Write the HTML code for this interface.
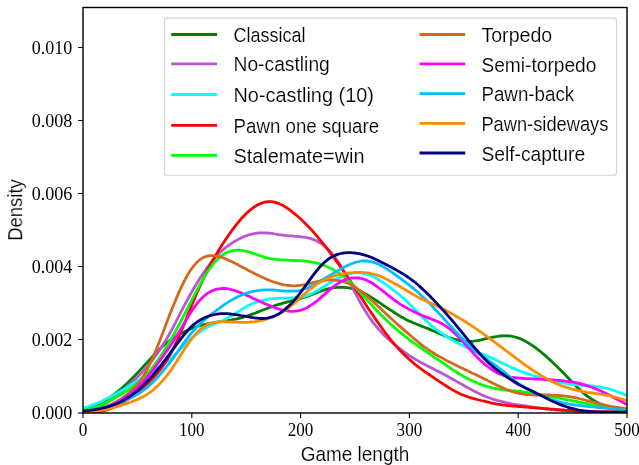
<!DOCTYPE html>
<html><head><meta charset="utf-8"><title>Game length density</title>
<style>
html,body{margin:0;padding:0;background:#fff;}
svg{display:block;}
.ss{font-family:"Liberation Sans",sans-serif;fill:#000;stroke:#fff;stroke-width:0.16px;paint-order:fill stroke;}
.sr{font-family:"Liberation Serif",serif;fill:#000;}
</style></head><body>
<svg width="639" height="465" viewBox="0 0 639 465">
<rect x="0" y="0" width="639" height="465" fill="#fff"/>
<defs><clipPath id="ax"><rect x="83.0" y="7.5" width="544.0" height="405.5"/></clipPath></defs>
<g clip-path="url(#ax)" fill="none" stroke-width="2.78" stroke-linecap="butt" stroke-linejoin="round">
<path d="M83.0,410.5 L85.0,409.8 L87.0,409.1 L89.0,408.3 L91.0,407.5 L93.0,406.7 L95.0,405.8 L97.0,404.8 L99.0,403.8 L101.0,402.8 L103.0,401.7 L105.0,400.5 L107.0,399.3 L109.0,398.0 L111.0,396.6 L113.0,395.2 L115.0,393.7 L117.0,392.1 L119.0,390.5 L121.0,388.8 L123.0,387.1 L125.0,385.3 L127.0,383.4 L129.0,381.5 L131.0,379.6 L133.0,377.6 L135.0,375.5 L137.0,373.4 L139.0,371.3 L141.0,369.1 L143.0,367.0 L145.0,364.8 L147.0,362.6 L149.0,360.4 L151.0,358.2 L153.0,356.0 L155.0,353.8 L157.0,351.7 L159.0,349.7 L161.0,347.8 L163.0,346.0 L165.0,344.3 L167.0,342.7 L169.0,341.2 L171.0,339.7 L173.0,338.3 L175.0,337.0 L177.0,335.7 L179.0,334.6 L181.0,333.4 L183.0,332.4 L185.0,331.4 L187.0,330.4 L189.0,329.5 L191.0,328.7 L193.0,327.9 L195.0,327.2 L197.0,326.5 L199.0,325.9 L201.0,325.4 L203.0,324.9 L205.0,324.4 L207.0,324.0 L209.0,323.6 L211.0,323.2 L213.0,322.9 L215.0,322.5 L217.0,322.2 L219.0,321.9 L221.0,321.6 L223.0,321.3 L225.0,321.0 L227.0,320.7 L229.0,320.3 L231.0,320.0 L233.0,319.6 L235.0,319.2 L237.0,318.8 L239.0,318.3 L241.0,317.8 L243.0,317.3 L245.0,316.7 L247.0,316.0 L249.0,315.3 L251.0,314.6 L253.0,313.9 L255.0,313.2 L257.0,312.4 L259.0,311.6 L261.0,310.8 L263.0,310.0 L265.0,309.2 L267.0,308.5 L269.0,307.7 L271.0,307.0 L273.0,306.3 L275.0,305.6 L277.0,304.9 L279.0,304.3 L281.0,303.8 L283.0,303.2 L285.0,302.6 L287.0,302.1 L289.0,301.5 L291.0,301.0 L293.0,300.4 L295.0,299.9 L297.0,299.4 L299.0,298.8 L301.0,298.2 L303.0,297.6 L305.0,297.0 L307.0,296.4 L309.0,295.7 L311.0,294.9 L313.0,294.2 L315.0,293.4 L317.0,292.6 L319.0,291.8 L321.0,291.1 L323.0,290.4 L325.0,289.7 L327.0,289.1 L329.0,288.6 L331.0,288.2 L333.0,287.9 L335.0,287.6 L337.0,287.4 L339.0,287.3 L341.0,287.3 L343.0,287.4 L345.0,287.5 L347.0,287.7 L349.0,288.0 L351.0,288.4 L353.0,288.9 L355.0,289.4 L357.0,290.1 L359.0,290.8 L361.0,291.6 L363.0,292.6 L365.0,293.6 L367.0,294.7 L369.0,295.9 L371.0,297.1 L373.0,298.4 L375.0,299.7 L377.0,301.0 L379.0,302.4 L381.0,303.7 L383.0,305.1 L385.0,306.4 L387.0,307.8 L389.0,309.1 L391.0,310.4 L393.0,311.7 L395.0,313.0 L397.0,314.3 L399.0,315.5 L401.0,316.7 L403.0,317.8 L405.0,318.9 L407.0,319.9 L409.0,320.9 L411.0,321.8 L413.0,322.7 L415.0,323.5 L417.0,324.3 L419.0,325.1 L421.0,325.9 L423.0,326.7 L425.0,327.5 L427.0,328.3 L429.0,329.1 L431.0,329.9 L433.0,330.8 L435.0,331.6 L437.0,332.5 L439.0,333.4 L441.0,334.2 L443.0,335.1 L445.0,335.9 L447.0,336.7 L449.0,337.5 L451.0,338.2 L453.0,338.8 L455.0,339.4 L457.0,339.9 L459.0,340.4 L461.0,340.8 L463.0,341.1 L465.0,341.3 L467.0,341.4 L469.0,341.5 L471.0,341.4 L473.0,341.3 L475.0,341.0 L477.0,340.7 L479.0,340.3 L481.0,339.9 L483.0,339.4 L485.0,338.9 L487.0,338.4 L489.0,338.0 L491.0,337.5 L493.0,337.1 L495.0,336.8 L497.0,336.5 L499.0,336.2 L501.0,336.0 L503.0,335.8 L505.0,335.8 L507.0,335.8 L509.0,335.9 L511.0,336.2 L513.0,336.5 L515.0,337.0 L517.0,337.6 L519.0,338.3 L521.0,339.1 L523.0,340.0 L525.0,341.0 L527.0,342.1 L529.0,343.3 L531.0,344.6 L533.0,345.9 L535.0,347.4 L537.0,348.9 L539.0,350.4 L541.0,352.0 L543.0,353.7 L545.0,355.4 L547.0,357.2 L549.0,359.0 L551.0,360.9 L553.0,362.7 L555.0,364.7 L557.0,366.6 L559.0,368.6 L561.0,370.6 L563.0,372.6 L565.0,374.6 L567.0,376.7 L569.0,378.8 L571.0,380.9 L573.0,383.0 L575.0,385.0 L577.0,387.0 L579.0,389.0 L581.0,390.8 L583.0,392.6 L585.0,394.3 L587.0,395.9 L589.0,397.3 L591.0,398.7 L593.0,400.0 L595.0,401.2 L597.0,402.3 L599.0,403.3 L601.0,404.2 L603.0,405.1 L605.0,405.9 L607.0,406.7 L609.0,407.3 L611.0,407.9 L613.0,408.5 L615.0,409.0 L617.0,409.4 L619.0,409.8 L621.0,410.2 L623.0,410.6 L625.0,410.9 L627.0,411.2" stroke="#008000"/>
<path d="M83.0,411.3 L85.0,410.9 L87.0,410.5 L89.0,410.0 L91.0,409.5 L93.0,409.0 L95.0,408.4 L97.0,407.7 L99.0,406.9 L101.0,406.0 L103.0,405.0 L105.0,403.9 L107.0,402.8 L109.0,401.4 L111.0,400.0 L113.0,398.5 L115.0,396.9 L117.0,395.3 L119.0,393.7 L121.0,392.0 L123.0,390.3 L125.0,388.6 L127.0,386.8 L129.0,385.0 L131.0,383.2 L133.0,381.4 L135.0,379.5 L137.0,377.6 L139.0,375.6 L141.0,373.5 L143.0,371.4 L145.0,369.2 L147.0,366.9 L149.0,364.5 L151.0,362.0 L153.0,359.4 L155.0,356.7 L157.0,353.9 L159.0,351.0 L161.0,348.0 L163.0,344.8 L165.0,341.6 L167.0,338.2 L169.0,334.7 L171.0,331.1 L173.0,327.4 L175.0,323.6 L177.0,319.7 L179.0,315.8 L181.0,311.9 L183.0,308.1 L185.0,304.2 L187.0,300.5 L189.0,296.8 L191.0,293.2 L193.0,289.7 L195.0,286.3 L197.0,283.0 L199.0,279.8 L201.0,276.7 L203.0,273.6 L205.0,270.7 L207.0,267.9 L209.0,265.2 L211.0,262.6 L213.0,260.2 L215.0,257.8 L217.0,255.6 L219.0,253.6 L221.0,251.6 L223.0,249.8 L225.0,248.1 L227.0,246.5 L229.0,245.1 L231.0,243.7 L233.0,242.4 L235.0,241.2 L237.0,240.1 L239.0,239.1 L241.0,238.1 L243.0,237.1 L245.0,236.3 L247.0,235.5 L249.0,234.8 L251.0,234.3 L253.0,233.8 L255.0,233.4 L257.0,233.1 L259.0,232.9 L261.0,232.8 L263.0,232.8 L265.0,232.9 L267.0,233.0 L269.0,233.2 L271.0,233.4 L273.0,233.7 L275.0,234.0 L277.0,234.3 L279.0,234.6 L281.0,234.8 L283.0,235.1 L285.0,235.4 L287.0,235.6 L289.0,235.8 L291.0,235.9 L293.0,236.1 L295.0,236.3 L297.0,236.4 L299.0,236.6 L301.0,236.8 L303.0,237.1 L305.0,237.4 L307.0,237.7 L309.0,238.2 L311.0,238.7 L313.0,239.4 L315.0,240.2 L317.0,241.1 L319.0,242.2 L321.0,243.4 L323.0,244.8 L325.0,246.5 L327.0,248.3 L329.0,250.3 L331.0,252.5 L333.0,254.9 L335.0,257.5 L337.0,260.3 L339.0,263.3 L341.0,266.5 L343.0,269.9 L345.0,273.4 L347.0,277.1 L349.0,280.9 L351.0,284.7 L353.0,288.6 L355.0,292.5 L357.0,296.3 L359.0,300.1 L361.0,303.7 L363.0,307.3 L365.0,310.6 L367.0,313.8 L369.0,316.8 L371.0,319.6 L373.0,322.3 L375.0,324.9 L377.0,327.3 L379.0,329.6 L381.0,331.8 L383.0,333.9 L385.0,335.9 L387.0,337.9 L389.0,339.7 L391.0,341.5 L393.0,343.3 L395.0,345.0 L397.0,346.6 L399.0,348.2 L401.0,349.7 L403.0,351.2 L405.0,352.6 L407.0,354.0 L409.0,355.4 L411.0,356.7 L413.0,357.9 L415.0,359.1 L417.0,360.3 L419.0,361.4 L421.0,362.5 L423.0,363.6 L425.0,364.6 L427.0,365.7 L429.0,366.7 L431.0,367.7 L433.0,368.7 L435.0,369.7 L437.0,370.8 L439.0,371.8 L441.0,372.8 L443.0,373.9 L445.0,375.0 L447.0,376.0 L449.0,377.1 L451.0,378.2 L453.0,379.3 L455.0,380.4 L457.0,381.6 L459.0,382.7 L461.0,383.9 L463.0,385.0 L465.0,386.2 L467.0,387.3 L469.0,388.4 L471.0,389.5 L473.0,390.6 L475.0,391.6 L477.0,392.6 L479.0,393.6 L481.0,394.5 L483.0,395.4 L485.0,396.2 L487.0,397.0 L489.0,397.8 L491.0,398.5 L493.0,399.2 L495.0,399.8 L497.0,400.4 L499.0,400.9 L501.0,401.4 L503.0,401.9 L505.0,402.4 L507.0,402.8 L509.0,403.2 L511.0,403.6 L513.0,404.0 L515.0,404.3 L517.0,404.7 L519.0,405.0 L521.0,405.3 L523.0,405.6 L525.0,405.9 L527.0,406.2 L529.0,406.5 L531.0,406.8 L533.0,407.1 L535.0,407.4 L537.0,407.7 L539.0,408.0 L541.0,408.2 L543.0,408.5 L545.0,408.8 L547.0,409.0 L549.0,409.2 L551.0,409.5 L553.0,409.7 L555.0,409.9 L557.0,410.1 L559.0,410.2 L561.0,410.4 L563.0,410.6 L565.0,410.7 L567.0,410.9 L569.0,411.0 L571.0,411.1 L573.0,411.2 L575.0,411.3 L577.0,411.4 L579.0,411.5 L581.0,411.6 L583.0,411.6 L585.0,411.7 L587.0,411.8 L589.0,411.8 L591.0,411.9 L593.0,411.9 L595.0,411.9 L597.0,412.0 L599.0,412.0 L601.0,412.0 L603.0,412.0 L605.0,412.0 L607.0,412.0 L609.0,412.1 L611.0,412.1 L613.0,412.1 L615.0,412.1 L617.0,412.0 L619.0,412.0 L621.0,412.0 L623.0,412.0 L625.0,412.0 L627.0,412.0" stroke="#ba55d3"/>
<path d="M83.0,408.2 L85.0,407.6 L87.0,407.0 L89.0,406.3 L91.0,405.6 L93.0,404.9 L95.0,404.1 L97.0,403.3 L99.0,402.5 L101.0,401.6 L103.0,400.6 L105.0,399.6 L107.0,398.6 L109.0,397.5 L111.0,396.5 L113.0,395.4 L115.0,394.2 L117.0,393.1 L119.0,392.0 L121.0,390.8 L123.0,389.7 L125.0,388.5 L127.0,387.3 L129.0,386.1 L131.0,384.9 L133.0,383.6 L135.0,382.4 L137.0,381.1 L139.0,379.9 L141.0,378.6 L143.0,377.3 L145.0,376.0 L147.0,374.8 L149.0,373.5 L151.0,372.2 L153.0,370.9 L155.0,369.6 L157.0,368.3 L159.0,367.0 L161.0,365.7 L163.0,364.3 L165.0,362.9 L167.0,361.4 L169.0,359.8 L171.0,358.1 L173.0,356.2 L175.0,354.3 L177.0,352.4 L179.0,350.4 L181.0,348.4 L183.0,346.4 L185.0,344.4 L187.0,342.5 L189.0,340.6 L191.0,338.8 L193.0,337.1 L195.0,335.4 L197.0,333.9 L199.0,332.4 L201.0,331.0 L203.0,329.7 L205.0,328.5 L207.0,327.4 L209.0,326.4 L211.0,325.5 L213.0,324.7 L215.0,323.8 L217.0,323.0 L219.0,322.2 L221.0,321.4 L223.0,320.5 L225.0,319.5 L227.0,318.4 L229.0,317.3 L231.0,316.1 L233.0,314.9 L235.0,313.6 L237.0,312.4 L239.0,311.1 L241.0,309.8 L243.0,308.6 L245.0,307.4 L247.0,306.2 L249.0,305.2 L251.0,304.2 L253.0,303.4 L255.0,302.6 L257.0,301.9 L259.0,301.3 L261.0,300.8 L263.0,300.3 L265.0,299.9 L267.0,299.5 L269.0,299.2 L271.0,299.0 L273.0,298.7 L275.0,298.6 L277.0,298.4 L279.0,298.3 L281.0,298.2 L283.0,298.2 L285.0,298.1 L287.0,298.1 L289.0,298.0 L291.0,297.9 L293.0,297.8 L295.0,297.7 L297.0,297.5 L299.0,297.3 L301.0,297.0 L303.0,296.6 L305.0,296.1 L307.0,295.5 L309.0,294.7 L311.0,293.9 L313.0,293.0 L315.0,291.9 L317.0,290.8 L319.0,289.7 L321.0,288.4 L323.0,287.2 L325.0,285.9 L327.0,284.7 L329.0,283.4 L331.0,282.2 L333.0,281.0 L335.0,279.8 L337.0,278.8 L339.0,277.7 L341.0,276.8 L343.0,275.9 L345.0,275.1 L347.0,274.4 L349.0,273.8 L351.0,273.3 L353.0,273.0 L355.0,272.7 L357.0,272.6 L359.0,272.6 L361.0,272.8 L363.0,273.1 L365.0,273.6 L367.0,274.2 L369.0,274.9 L371.0,275.7 L373.0,276.6 L375.0,277.6 L377.0,278.7 L379.0,279.9 L381.0,281.2 L383.0,282.5 L385.0,283.9 L387.0,285.3 L389.0,286.8 L391.0,288.3 L393.0,289.8 L395.0,291.3 L397.0,292.9 L399.0,294.5 L401.0,296.2 L403.0,297.9 L405.0,299.7 L407.0,301.6 L409.0,303.6 L411.0,305.5 L413.0,307.5 L415.0,309.6 L417.0,311.6 L419.0,313.6 L421.0,315.7 L423.0,317.7 L425.0,319.6 L427.0,321.5 L429.0,323.4 L431.0,325.2 L433.0,326.9 L435.0,328.5 L437.0,330.0 L439.0,331.4 L441.0,332.8 L443.0,334.2 L445.0,335.5 L447.0,336.7 L449.0,338.0 L451.0,339.2 L453.0,340.4 L455.0,341.6 L457.0,342.7 L459.0,343.8 L461.0,344.8 L463.0,345.8 L465.0,346.8 L467.0,347.7 L469.0,348.6 L471.0,349.5 L473.0,350.3 L475.0,351.1 L477.0,351.9 L479.0,352.7 L481.0,353.5 L483.0,354.3 L485.0,355.1 L487.0,355.9 L489.0,356.8 L491.0,357.7 L493.0,358.6 L495.0,359.5 L497.0,360.5 L499.0,361.4 L501.0,362.4 L503.0,363.4 L505.0,364.3 L507.0,365.3 L509.0,366.2 L511.0,367.2 L513.0,368.1 L515.0,368.9 L517.0,369.8 L519.0,370.6 L521.0,371.4 L523.0,372.1 L525.0,372.8 L527.0,373.5 L529.0,374.2 L531.0,374.8 L533.0,375.5 L535.0,376.1 L537.0,376.7 L539.0,377.3 L541.0,377.9 L543.0,378.5 L545.0,379.1 L547.0,379.6 L549.0,380.2 L551.0,380.6 L553.0,381.1 L555.0,381.5 L557.0,382.0 L559.0,382.3 L561.0,382.7 L563.0,383.0 L565.0,383.3 L567.0,383.6 L569.0,383.9 L571.0,384.1 L573.0,384.3 L575.0,384.5 L577.0,384.7 L579.0,384.9 L581.0,385.1 L583.0,385.3 L585.0,385.5 L587.0,385.6 L589.0,385.8 L591.0,386.0 L593.0,386.2 L595.0,386.4 L597.0,386.7 L599.0,386.9 L601.0,387.2 L603.0,387.6 L605.0,388.0 L607.0,388.4 L609.0,388.9 L611.0,389.5 L613.0,390.1 L615.0,390.8 L617.0,391.5 L619.0,392.3 L621.0,393.1 L623.0,393.9 L625.0,394.8 L627.0,395.7" stroke="#00ffff"/>
<path d="M83.0,412.2 L85.0,412.2 L87.0,412.2 L89.0,412.2 L91.0,412.2 L93.0,412.1 L95.0,412.0 L97.0,411.8 L99.0,411.6 L101.0,411.3 L103.0,410.9 L105.0,410.4 L107.0,409.9 L109.0,409.2 L111.0,408.5 L113.0,407.7 L115.0,406.8 L117.0,405.7 L119.0,404.6 L121.0,403.5 L123.0,402.3 L125.0,401.1 L127.0,399.9 L129.0,398.6 L131.0,397.3 L133.0,395.9 L135.0,394.4 L137.0,392.9 L139.0,391.3 L141.0,389.7 L143.0,388.0 L145.0,386.2 L147.0,384.3 L149.0,382.4 L151.0,380.3 L153.0,378.2 L155.0,376.0 L157.0,373.7 L159.0,371.2 L161.0,368.6 L163.0,365.9 L165.0,363.0 L167.0,359.9 L169.0,356.6 L171.0,353.0 L173.0,349.2 L175.0,345.2 L177.0,340.9 L179.0,336.4 L181.0,331.8 L183.0,327.0 L185.0,322.1 L187.0,317.1 L189.0,312.1 L191.0,307.1 L193.0,302.2 L195.0,297.4 L197.0,292.8 L199.0,288.2 L201.0,283.8 L203.0,279.5 L205.0,275.4 L207.0,271.4 L209.0,267.5 L211.0,263.7 L213.0,260.0 L215.0,256.5 L217.0,253.1 L219.0,249.7 L221.0,246.5 L223.0,243.4 L225.0,240.4 L227.0,237.4 L229.0,234.5 L231.0,231.7 L233.0,228.9 L235.0,226.3 L237.0,223.8 L239.0,221.3 L241.0,219.0 L243.0,216.8 L245.0,214.8 L247.0,212.8 L249.0,211.0 L251.0,209.4 L253.0,207.9 L255.0,206.5 L257.0,205.3 L259.0,204.3 L261.0,203.4 L263.0,202.7 L265.0,202.2 L267.0,201.8 L269.0,201.7 L271.0,201.7 L273.0,201.9 L275.0,202.4 L277.0,202.9 L279.0,203.7 L281.0,204.6 L283.0,205.6 L285.0,206.8 L287.0,208.0 L289.0,209.4 L291.0,210.9 L293.0,212.5 L295.0,214.1 L297.0,215.8 L299.0,217.5 L301.0,219.3 L303.0,221.2 L305.0,223.2 L307.0,225.2 L309.0,227.2 L311.0,229.4 L313.0,231.6 L315.0,233.9 L317.0,236.2 L319.0,238.6 L321.0,241.1 L323.0,243.5 L325.0,246.0 L327.0,248.6 L329.0,251.2 L331.0,253.8 L333.0,256.4 L335.0,259.1 L337.0,261.8 L339.0,264.6 L341.0,267.4 L343.0,270.2 L345.0,273.1 L347.0,276.0 L349.0,278.9 L351.0,281.9 L353.0,284.9 L355.0,287.9 L357.0,291.0 L359.0,294.0 L361.0,297.1 L363.0,300.2 L365.0,303.3 L367.0,306.4 L369.0,309.4 L371.0,312.4 L373.0,315.3 L375.0,318.2 L377.0,321.1 L379.0,324.0 L381.0,326.8 L383.0,329.5 L385.0,332.3 L387.0,334.9 L389.0,337.5 L391.0,340.0 L393.0,342.5 L395.0,344.8 L397.0,347.1 L399.0,349.3 L401.0,351.4 L403.0,353.5 L405.0,355.4 L407.0,357.3 L409.0,359.2 L411.0,360.9 L413.0,362.6 L415.0,364.3 L417.0,365.8 L419.0,367.4 L421.0,368.9 L423.0,370.3 L425.0,371.8 L427.0,373.2 L429.0,374.5 L431.0,375.9 L433.0,377.2 L435.0,378.6 L437.0,379.9 L439.0,381.3 L441.0,382.6 L443.0,383.9 L445.0,385.2 L447.0,386.5 L449.0,387.7 L451.0,388.9 L453.0,390.1 L455.0,391.2 L457.0,392.2 L459.0,393.2 L461.0,394.2 L463.0,395.0 L465.0,395.8 L467.0,396.5 L469.0,397.2 L471.0,397.8 L473.0,398.4 L475.0,398.9 L477.0,399.5 L479.0,400.0 L481.0,400.5 L483.0,400.9 L485.0,401.4 L487.0,401.9 L489.0,402.4 L491.0,402.9 L493.0,403.3 L495.0,403.7 L497.0,404.1 L499.0,404.4 L501.0,404.7 L503.0,405.0 L505.0,405.2 L507.0,405.5 L509.0,405.7 L511.0,405.9 L513.0,406.1 L515.0,406.2 L517.0,406.4 L519.0,406.6 L521.0,406.7 L523.0,406.9 L525.0,407.0 L527.0,407.2 L529.0,407.3 L531.0,407.5 L533.0,407.6 L535.0,407.8 L537.0,408.0 L539.0,408.1 L541.0,408.3 L543.0,408.4 L545.0,408.6 L547.0,408.8 L549.0,408.9 L551.0,409.1 L553.0,409.2 L555.0,409.4 L557.0,409.6 L559.0,409.7 L561.0,409.9 L563.0,410.0 L565.0,410.2 L567.0,410.3 L569.0,410.4 L571.0,410.6 L573.0,410.7 L575.0,410.8 L577.0,410.9 L579.0,411.0 L581.0,411.1 L583.0,411.2 L585.0,411.3 L587.0,411.4 L589.0,411.5 L591.0,411.5 L593.0,411.6 L595.0,411.7 L597.0,411.7 L599.0,411.8 L601.0,411.8 L603.0,411.8 L605.0,411.9 L607.0,411.9 L609.0,411.9 L611.0,411.9 L613.0,412.0 L615.0,412.0 L617.0,412.0 L619.0,412.0 L621.0,412.0 L623.0,412.0 L625.0,412.0 L627.0,412.0" stroke="#ff0000"/>
<path d="M83.0,410.7 L85.0,410.2 L87.0,409.7 L89.0,409.2 L91.0,408.6 L93.0,408.1 L95.0,407.4 L97.0,406.7 L99.0,406.0 L101.0,405.2 L103.0,404.3 L105.0,403.4 L107.0,402.4 L109.0,401.4 L111.0,400.3 L113.0,399.2 L115.0,398.0 L117.0,396.8 L119.0,395.7 L121.0,394.5 L123.0,393.3 L125.0,392.0 L127.0,390.8 L129.0,389.5 L131.0,388.1 L133.0,386.7 L135.0,385.2 L137.0,383.7 L139.0,382.0 L141.0,380.2 L143.0,378.3 L145.0,376.2 L147.0,374.1 L149.0,371.8 L151.0,369.4 L153.0,366.8 L155.0,364.1 L157.0,361.4 L159.0,358.5 L161.0,355.5 L163.0,352.4 L165.0,349.3 L167.0,346.0 L169.0,342.7 L171.0,339.3 L173.0,335.8 L175.0,332.2 L177.0,328.5 L179.0,324.8 L181.0,321.0 L183.0,317.2 L185.0,313.3 L187.0,309.4 L189.0,305.5 L191.0,301.6 L193.0,297.7 L195.0,293.8 L197.0,290.0 L199.0,286.3 L201.0,282.7 L203.0,279.2 L205.0,275.8 L207.0,272.6 L209.0,269.6 L211.0,266.8 L213.0,264.2 L215.0,261.9 L217.0,259.8 L219.0,257.9 L221.0,256.2 L223.0,254.8 L225.0,253.6 L227.0,252.6 L229.0,251.7 L231.0,251.1 L233.0,250.6 L235.0,250.3 L237.0,250.2 L239.0,250.2 L241.0,250.4 L243.0,250.6 L245.0,251.0 L247.0,251.5 L249.0,252.1 L251.0,252.7 L253.0,253.3 L255.0,254.0 L257.0,254.7 L259.0,255.4 L261.0,256.0 L263.0,256.7 L265.0,257.3 L267.0,257.8 L269.0,258.3 L271.0,258.7 L273.0,259.0 L275.0,259.3 L277.0,259.5 L279.0,259.7 L281.0,259.9 L283.0,260.0 L285.0,260.1 L287.0,260.2 L289.0,260.3 L291.0,260.4 L293.0,260.5 L295.0,260.5 L297.0,260.6 L299.0,260.7 L301.0,260.9 L303.0,261.0 L305.0,261.2 L307.0,261.4 L309.0,261.7 L311.0,262.0 L313.0,262.3 L315.0,262.7 L317.0,263.2 L319.0,263.7 L321.0,264.4 L323.0,265.0 L325.0,265.8 L327.0,266.7 L329.0,267.6 L331.0,268.5 L333.0,269.5 L335.0,270.6 L337.0,271.8 L339.0,273.0 L341.0,274.4 L343.0,275.8 L345.0,277.4 L347.0,279.0 L349.0,280.8 L351.0,282.7 L353.0,284.7 L355.0,286.7 L357.0,288.9 L359.0,291.1 L361.0,293.3 L363.0,295.5 L365.0,297.7 L367.0,299.9 L369.0,302.1 L371.0,304.3 L373.0,306.4 L375.0,308.6 L377.0,310.7 L379.0,312.8 L381.0,314.8 L383.0,316.8 L385.0,318.8 L387.0,320.7 L389.0,322.6 L391.0,324.5 L393.0,326.3 L395.0,328.1 L397.0,329.8 L399.0,331.5 L401.0,333.1 L403.0,334.7 L405.0,336.3 L407.0,337.8 L409.0,339.3 L411.0,340.8 L413.0,342.3 L415.0,343.7 L417.0,345.2 L419.0,346.6 L421.0,348.0 L423.0,349.4 L425.0,350.8 L427.0,352.2 L429.0,353.5 L431.0,354.9 L433.0,356.2 L435.0,357.6 L437.0,358.9 L439.0,360.3 L441.0,361.7 L443.0,363.0 L445.0,364.4 L447.0,365.8 L449.0,367.2 L451.0,368.6 L453.0,369.9 L455.0,371.2 L457.0,372.5 L459.0,373.7 L461.0,374.9 L463.0,376.0 L465.0,377.1 L467.0,378.2 L469.0,379.2 L471.0,380.2 L473.0,381.1 L475.0,382.0 L477.0,382.8 L479.0,383.7 L481.0,384.4 L483.0,385.1 L485.0,385.8 L487.0,386.4 L489.0,387.0 L491.0,387.5 L493.0,388.0 L495.0,388.4 L497.0,388.8 L499.0,389.2 L501.0,389.5 L503.0,389.8 L505.0,390.0 L507.0,390.3 L509.0,390.4 L511.0,390.6 L513.0,390.8 L515.0,390.9 L517.0,391.1 L519.0,391.3 L521.0,391.5 L523.0,391.8 L525.0,392.1 L527.0,392.4 L529.0,392.7 L531.0,393.1 L533.0,393.5 L535.0,393.8 L537.0,394.2 L539.0,394.5 L541.0,394.9 L543.0,395.2 L545.0,395.6 L547.0,396.0 L549.0,396.3 L551.0,396.7 L553.0,397.0 L555.0,397.4 L557.0,397.8 L559.0,398.1 L561.0,398.5 L563.0,398.9 L565.0,399.3 L567.0,399.6 L569.0,400.0 L571.0,400.4 L573.0,400.8 L575.0,401.2 L577.0,401.6 L579.0,402.0 L581.0,402.4 L583.0,402.9 L585.0,403.3 L587.0,403.7 L589.0,404.1 L591.0,404.5 L593.0,404.9 L595.0,405.3 L597.0,405.7 L599.0,406.1 L601.0,406.5 L603.0,406.9 L605.0,407.2 L607.0,407.6 L609.0,407.9 L611.0,408.2 L613.0,408.5 L615.0,408.7 L617.0,409.0 L619.0,409.2 L621.0,409.4 L623.0,409.6 L625.0,409.9 L627.0,410.1" stroke="#00ff00"/>
<path d="M83.0,411.7 L85.0,411.5 L87.0,411.2 L89.0,411.0 L91.0,410.7 L93.0,410.3 L95.0,410.0 L97.0,409.5 L99.0,409.0 L101.0,408.5 L103.0,407.9 L105.0,407.2 L107.0,406.4 L109.0,405.5 L111.0,404.6 L113.0,403.6 L115.0,402.6 L117.0,401.5 L119.0,400.3 L121.0,399.0 L123.0,397.6 L125.0,396.1 L127.0,394.6 L129.0,392.9 L131.0,391.1 L133.0,389.2 L135.0,387.1 L137.0,384.8 L139.0,382.3 L141.0,379.6 L143.0,376.6 L145.0,373.3 L147.0,369.8 L149.0,365.9 L151.0,361.7 L153.0,357.2 L155.0,352.5 L157.0,347.6 L159.0,342.5 L161.0,337.4 L163.0,332.2 L165.0,327.0 L167.0,321.8 L169.0,316.6 L171.0,311.5 L173.0,306.5 L175.0,301.7 L177.0,296.9 L179.0,292.3 L181.0,287.9 L183.0,283.7 L185.0,279.7 L187.0,276.0 L189.0,272.6 L191.0,269.6 L193.0,266.8 L195.0,264.4 L197.0,262.2 L199.0,260.4 L201.0,258.9 L203.0,257.8 L205.0,256.8 L207.0,256.2 L209.0,255.8 L211.0,255.6 L213.0,255.6 L215.0,255.8 L217.0,256.1 L219.0,256.6 L221.0,257.2 L223.0,257.9 L225.0,258.6 L227.0,259.5 L229.0,260.4 L231.0,261.3 L233.0,262.3 L235.0,263.3 L237.0,264.3 L239.0,265.4 L241.0,266.4 L243.0,267.5 L245.0,268.6 L247.0,269.6 L249.0,270.7 L251.0,271.7 L253.0,272.7 L255.0,273.8 L257.0,274.8 L259.0,275.7 L261.0,276.7 L263.0,277.6 L265.0,278.5 L267.0,279.4 L269.0,280.2 L271.0,281.0 L273.0,281.7 L275.0,282.4 L277.0,283.0 L279.0,283.6 L281.0,284.1 L283.0,284.6 L285.0,285.0 L287.0,285.3 L289.0,285.5 L291.0,285.7 L293.0,285.8 L295.0,285.8 L297.0,285.7 L299.0,285.5 L301.0,285.2 L303.0,284.9 L305.0,284.5 L307.0,284.1 L309.0,283.6 L311.0,283.1 L313.0,282.6 L315.0,282.2 L317.0,281.7 L319.0,281.3 L321.0,280.9 L323.0,280.6 L325.0,280.4 L327.0,280.2 L329.0,280.0 L331.0,280.0 L333.0,280.0 L335.0,280.1 L337.0,280.3 L339.0,280.6 L341.0,281.0 L343.0,281.5 L345.0,282.1 L347.0,282.9 L349.0,283.7 L351.0,284.7 L353.0,285.8 L355.0,287.0 L357.0,288.3 L359.0,289.8 L361.0,291.3 L363.0,292.8 L365.0,294.5 L367.0,296.2 L369.0,297.9 L371.0,299.7 L373.0,301.5 L375.0,303.4 L377.0,305.2 L379.0,307.1 L381.0,309.0 L383.0,310.9 L385.0,312.8 L387.0,314.7 L389.0,316.5 L391.0,318.4 L393.0,320.2 L395.0,322.0 L397.0,323.8 L399.0,325.6 L401.0,327.4 L403.0,329.1 L405.0,330.9 L407.0,332.6 L409.0,334.3 L411.0,336.0 L413.0,337.7 L415.0,339.4 L417.0,341.0 L419.0,342.7 L421.0,344.3 L423.0,345.8 L425.0,347.3 L427.0,348.7 L429.0,350.1 L431.0,351.4 L433.0,352.7 L435.0,353.9 L437.0,355.1 L439.0,356.3 L441.0,357.4 L443.0,358.5 L445.0,359.6 L447.0,360.7 L449.0,361.7 L451.0,362.8 L453.0,363.8 L455.0,364.7 L457.0,365.7 L459.0,366.7 L461.0,367.7 L463.0,368.6 L465.0,369.6 L467.0,370.5 L469.0,371.5 L471.0,372.4 L473.0,373.4 L475.0,374.3 L477.0,375.3 L479.0,376.2 L481.0,377.2 L483.0,378.2 L485.0,379.2 L487.0,380.1 L489.0,381.2 L491.0,382.2 L493.0,383.2 L495.0,384.2 L497.0,385.2 L499.0,386.1 L501.0,387.1 L503.0,388.0 L505.0,388.9 L507.0,389.7 L509.0,390.4 L511.0,391.1 L513.0,391.7 L515.0,392.3 L517.0,392.8 L519.0,393.3 L521.0,393.7 L523.0,394.0 L525.0,394.3 L527.0,394.5 L529.0,394.7 L531.0,394.8 L533.0,394.9 L535.0,395.0 L537.0,395.0 L539.0,395.0 L541.0,395.0 L543.0,395.0 L545.0,395.0 L547.0,395.0 L549.0,395.0 L551.0,395.1 L553.0,395.1 L555.0,395.2 L557.0,395.3 L559.0,395.5 L561.0,395.6 L563.0,395.8 L565.0,396.0 L567.0,396.3 L569.0,396.6 L571.0,396.9 L573.0,397.3 L575.0,397.7 L577.0,398.1 L579.0,398.5 L581.0,399.0 L583.0,399.5 L585.0,400.0 L587.0,400.6 L589.0,401.1 L591.0,401.6 L593.0,402.2 L595.0,402.7 L597.0,403.2 L599.0,403.7 L601.0,404.2 L603.0,404.6 L605.0,405.1 L607.0,405.5 L609.0,405.9 L611.0,406.3 L613.0,406.6 L615.0,407.0 L617.0,407.3 L619.0,407.6 L621.0,407.9 L623.0,408.2 L625.0,408.5 L627.0,408.8" stroke="#d2691e"/>
<path d="M83.0,411.7 L85.0,411.4 L87.0,411.2 L89.0,410.9 L91.0,410.6 L93.0,410.3 L95.0,409.9 L97.0,409.5 L99.0,409.0 L101.0,408.5 L103.0,407.9 L105.0,407.2 L107.0,406.5 L109.0,405.7 L111.0,404.8 L113.0,403.9 L115.0,402.9 L117.0,401.9 L119.0,400.8 L121.0,399.7 L123.0,398.5 L125.0,397.3 L127.0,396.0 L129.0,394.6 L131.0,393.1 L133.0,391.5 L135.0,389.8 L137.0,388.0 L139.0,386.1 L141.0,384.1 L143.0,382.0 L145.0,379.8 L147.0,377.4 L149.0,375.0 L151.0,372.5 L153.0,369.9 L155.0,367.2 L157.0,364.5 L159.0,361.8 L161.0,359.0 L163.0,356.2 L165.0,353.3 L167.0,350.4 L169.0,347.5 L171.0,344.6 L173.0,341.6 L175.0,338.5 L177.0,335.3 L179.0,332.0 L181.0,328.7 L183.0,325.3 L185.0,321.9 L187.0,318.5 L189.0,315.2 L191.0,312.0 L193.0,309.0 L195.0,306.1 L197.0,303.5 L199.0,301.1 L201.0,298.9 L203.0,297.0 L205.0,295.3 L207.0,293.7 L209.0,292.4 L211.0,291.3 L213.0,290.4 L215.0,289.7 L217.0,289.1 L219.0,288.8 L221.0,288.5 L223.0,288.5 L225.0,288.5 L227.0,288.7 L229.0,289.0 L231.0,289.5 L233.0,290.0 L235.0,290.6 L237.0,291.3 L239.0,292.0 L241.0,292.8 L243.0,293.7 L245.0,294.5 L247.0,295.4 L249.0,296.3 L251.0,297.2 L253.0,298.2 L255.0,299.1 L257.0,300.0 L259.0,300.9 L261.0,301.9 L263.0,302.8 L265.0,303.7 L267.0,304.5 L269.0,305.4 L271.0,306.2 L273.0,307.0 L275.0,307.7 L277.0,308.4 L279.0,309.0 L281.0,309.6 L283.0,310.1 L285.0,310.5 L287.0,310.9 L289.0,311.1 L291.0,311.3 L293.0,311.3 L295.0,311.2 L297.0,311.0 L299.0,310.6 L301.0,310.1 L303.0,309.5 L305.0,308.6 L307.0,307.7 L309.0,306.5 L311.0,305.2 L313.0,303.9 L315.0,302.4 L317.0,300.8 L319.0,299.1 L321.0,297.4 L323.0,295.6 L325.0,293.9 L327.0,292.1 L329.0,290.4 L331.0,288.7 L333.0,287.1 L335.0,285.5 L337.0,284.1 L339.0,282.8 L341.0,281.6 L343.0,280.6 L345.0,279.8 L347.0,279.1 L349.0,278.5 L351.0,278.1 L353.0,277.9 L355.0,277.8 L357.0,277.8 L359.0,278.0 L361.0,278.4 L363.0,278.9 L365.0,279.6 L367.0,280.4 L369.0,281.4 L371.0,282.5 L373.0,283.7 L375.0,285.1 L377.0,286.5 L379.0,288.0 L381.0,289.5 L383.0,291.1 L385.0,292.7 L387.0,294.3 L389.0,295.9 L391.0,297.5 L393.0,299.0 L395.0,300.5 L397.0,301.9 L399.0,303.3 L401.0,304.6 L403.0,305.8 L405.0,307.0 L407.0,308.1 L409.0,309.2 L411.0,310.3 L413.0,311.3 L415.0,312.2 L417.0,313.2 L419.0,314.1 L421.0,314.9 L423.0,315.8 L425.0,316.6 L427.0,317.4 L429.0,318.1 L431.0,318.9 L433.0,319.7 L435.0,320.5 L437.0,321.3 L439.0,322.3 L441.0,323.3 L443.0,324.4 L445.0,325.6 L447.0,326.9 L449.0,328.4 L451.0,330.0 L453.0,331.7 L455.0,333.5 L457.0,335.4 L459.0,337.5 L461.0,339.6 L463.0,341.7 L465.0,344.0 L467.0,346.2 L469.0,348.4 L471.0,350.7 L473.0,352.9 L475.0,355.0 L477.0,357.0 L479.0,359.0 L481.0,360.9 L483.0,362.7 L485.0,364.4 L487.0,366.0 L489.0,367.5 L491.0,369.0 L493.0,370.3 L495.0,371.6 L497.0,372.7 L499.0,373.6 L501.0,374.5 L503.0,375.2 L505.0,375.9 L507.0,376.4 L509.0,376.8 L511.0,377.2 L513.0,377.5 L515.0,377.7 L517.0,377.9 L519.0,378.1 L521.0,378.2 L523.0,378.3 L525.0,378.5 L527.0,378.6 L529.0,378.7 L531.0,378.8 L533.0,378.9 L535.0,379.0 L537.0,379.1 L539.0,379.2 L541.0,379.3 L543.0,379.4 L545.0,379.5 L547.0,379.6 L549.0,379.7 L551.0,379.9 L553.0,380.0 L555.0,380.2 L557.0,380.3 L559.0,380.5 L561.0,380.7 L563.0,380.9 L565.0,381.1 L567.0,381.4 L569.0,381.6 L571.0,381.9 L573.0,382.2 L575.0,382.5 L577.0,382.9 L579.0,383.3 L581.0,383.8 L583.0,384.4 L585.0,384.9 L587.0,385.6 L589.0,386.2 L591.0,387.0 L593.0,387.7 L595.0,388.5 L597.0,389.4 L599.0,390.2 L601.0,391.1 L603.0,392.1 L605.0,393.1 L607.0,394.1 L609.0,395.1 L611.0,396.1 L613.0,397.2 L615.0,398.2 L617.0,399.3 L619.0,400.3 L621.0,401.4 L623.0,402.4 L625.0,403.5 L627.0,404.6" stroke="#ff00ff"/>
<path d="M83.0,411.1 L85.0,410.8 L87.0,410.6 L89.0,410.3 L91.0,410.0 L93.0,409.7 L95.0,409.3 L97.0,409.0 L99.0,408.6 L101.0,408.2 L103.0,407.7 L105.0,407.3 L107.0,406.7 L109.0,406.2 L111.0,405.6 L113.0,405.0 L115.0,404.3 L117.0,403.6 L119.0,402.9 L121.0,402.2 L123.0,401.4 L125.0,400.5 L127.0,399.7 L129.0,398.7 L131.0,397.8 L133.0,396.8 L135.0,395.7 L137.0,394.6 L139.0,393.4 L141.0,392.1 L143.0,390.7 L145.0,389.2 L147.0,387.6 L149.0,385.8 L151.0,384.0 L153.0,382.0 L155.0,380.0 L157.0,377.9 L159.0,375.6 L161.0,373.4 L163.0,371.0 L165.0,368.7 L167.0,366.2 L169.0,363.7 L171.0,361.0 L173.0,358.3 L175.0,355.5 L177.0,352.7 L179.0,349.8 L181.0,347.0 L183.0,344.1 L185.0,341.4 L187.0,338.7 L189.0,336.1 L191.0,333.6 L193.0,331.2 L195.0,329.0 L197.0,326.8 L199.0,324.9 L201.0,323.0 L203.0,321.2 L205.0,319.5 L207.0,317.8 L209.0,316.2 L211.0,314.6 L213.0,313.0 L215.0,311.5 L217.0,310.0 L219.0,308.5 L221.0,307.0 L223.0,305.6 L225.0,304.2 L227.0,302.9 L229.0,301.6 L231.0,300.4 L233.0,299.2 L235.0,298.2 L237.0,297.1 L239.0,296.2 L241.0,295.3 L243.0,294.5 L245.0,293.7 L247.0,293.1 L249.0,292.5 L251.0,291.9 L253.0,291.4 L255.0,291.0 L257.0,290.7 L259.0,290.4 L261.0,290.1 L263.0,290.0 L265.0,289.9 L267.0,289.8 L269.0,289.8 L271.0,289.9 L273.0,290.0 L275.0,290.1 L277.0,290.3 L279.0,290.5 L281.0,290.6 L283.0,290.8 L285.0,291.0 L287.0,291.1 L289.0,291.2 L291.0,291.2 L293.0,291.2 L295.0,291.0 L297.0,290.8 L299.0,290.5 L301.0,290.1 L303.0,289.5 L305.0,288.8 L307.0,288.1 L309.0,287.2 L311.0,286.3 L313.0,285.3 L315.0,284.2 L317.0,283.1 L319.0,281.9 L321.0,280.7 L323.0,279.5 L325.0,278.3 L327.0,277.1 L329.0,275.9 L331.0,274.6 L333.0,273.5 L335.0,272.3 L337.0,271.1 L339.0,270.0 L341.0,268.9 L343.0,267.8 L345.0,266.7 L347.0,265.8 L349.0,264.8 L351.0,264.0 L353.0,263.2 L355.0,262.5 L357.0,262.0 L359.0,261.5 L361.0,261.2 L363.0,261.0 L365.0,260.9 L367.0,261.0 L369.0,261.3 L371.0,261.7 L373.0,262.2 L375.0,262.8 L377.0,263.6 L379.0,264.5 L381.0,265.5 L383.0,266.6 L385.0,267.8 L387.0,269.1 L389.0,270.4 L391.0,271.7 L393.0,273.1 L395.0,274.5 L397.0,275.9 L399.0,277.4 L401.0,278.8 L403.0,280.3 L405.0,281.8 L407.0,283.4 L409.0,284.9 L411.0,286.5 L413.0,288.1 L415.0,289.8 L417.0,291.5 L419.0,293.3 L421.0,295.2 L423.0,297.0 L425.0,299.0 L427.0,300.9 L429.0,302.9 L431.0,305.0 L433.0,307.0 L435.0,309.2 L437.0,311.3 L439.0,313.4 L441.0,315.6 L443.0,317.8 L445.0,320.0 L447.0,322.2 L449.0,324.4 L451.0,326.5 L453.0,328.7 L455.0,330.8 L457.0,332.9 L459.0,335.0 L461.0,337.1 L463.0,339.1 L465.0,341.1 L467.0,343.1 L469.0,345.0 L471.0,346.9 L473.0,348.7 L475.0,350.4 L477.0,352.1 L479.0,353.7 L481.0,355.2 L483.0,356.7 L485.0,358.1 L487.0,359.5 L489.0,360.9 L491.0,362.2 L493.0,363.6 L495.0,365.1 L497.0,366.5 L499.0,368.0 L501.0,369.5 L503.0,371.1 L505.0,372.7 L507.0,374.4 L509.0,376.0 L511.0,377.7 L513.0,379.3 L515.0,380.9 L517.0,382.4 L519.0,383.8 L521.0,385.1 L523.0,386.3 L525.0,387.4 L527.0,388.6 L529.0,389.6 L531.0,390.7 L533.0,391.7 L535.0,392.7 L537.0,393.7 L539.0,394.6 L541.0,395.5 L543.0,396.4 L545.0,397.2 L547.0,398.0 L549.0,398.8 L551.0,399.5 L553.0,400.1 L555.0,400.7 L557.0,401.3 L559.0,401.8 L561.0,402.3 L563.0,402.8 L565.0,403.3 L567.0,403.7 L569.0,404.1 L571.0,404.4 L573.0,404.7 L575.0,405.0 L577.0,405.2 L579.0,405.5 L581.0,405.7 L583.0,405.9 L585.0,406.1 L587.0,406.3 L589.0,406.5 L591.0,406.7 L593.0,406.9 L595.0,407.1 L597.0,407.3 L599.0,407.5 L601.0,407.7 L603.0,407.9 L605.0,408.1 L607.0,408.3 L609.0,408.5 L611.0,408.7 L613.0,408.9 L615.0,409.1 L617.0,409.3 L619.0,409.6 L621.0,409.8 L623.0,410.0 L625.0,410.3 L627.0,410.5" stroke="#00bfff"/>
<path d="M83.0,412.1 L85.0,412.0 L87.0,411.8 L89.0,411.7 L91.0,411.5 L93.0,411.3 L95.0,411.1 L97.0,410.9 L99.0,410.6 L101.0,410.4 L103.0,410.0 L105.0,409.7 L107.0,409.3 L109.0,408.8 L111.0,408.3 L113.0,407.8 L115.0,407.2 L117.0,406.6 L119.0,406.0 L121.0,405.4 L123.0,404.7 L125.0,404.1 L127.0,403.4 L129.0,402.7 L131.0,402.0 L133.0,401.2 L135.0,400.5 L137.0,399.6 L139.0,398.8 L141.0,397.8 L143.0,396.8 L145.0,395.7 L147.0,394.4 L149.0,393.1 L151.0,391.6 L153.0,390.1 L155.0,388.3 L157.0,386.5 L159.0,384.5 L161.0,382.4 L163.0,380.2 L165.0,377.8 L167.0,375.3 L169.0,372.6 L171.0,369.9 L173.0,366.9 L175.0,363.9 L177.0,360.9 L179.0,357.7 L181.0,354.6 L183.0,351.5 L185.0,348.4 L187.0,345.4 L189.0,342.6 L191.0,339.8 L193.0,337.2 L195.0,334.8 L197.0,332.6 L199.0,330.5 L201.0,328.8 L203.0,327.2 L205.0,325.9 L207.0,324.9 L209.0,324.0 L211.0,323.3 L213.0,322.8 L215.0,322.4 L217.0,322.1 L219.0,321.9 L221.0,321.8 L223.0,321.7 L225.0,321.7 L227.0,321.8 L229.0,321.8 L231.0,321.9 L233.0,322.0 L235.0,322.1 L237.0,322.2 L239.0,322.3 L241.0,322.3 L243.0,322.3 L245.0,322.3 L247.0,322.3 L249.0,322.2 L251.0,322.0 L253.0,321.8 L255.0,321.6 L257.0,321.3 L259.0,321.0 L261.0,320.6 L263.0,320.1 L265.0,319.6 L267.0,319.0 L269.0,318.3 L271.0,317.6 L273.0,316.8 L275.0,315.9 L277.0,315.0 L279.0,314.0 L281.0,312.9 L283.0,311.7 L285.0,310.4 L287.0,309.1 L289.0,307.6 L291.0,306.0 L293.0,304.4 L295.0,302.7 L297.0,300.9 L299.0,299.1 L301.0,297.2 L303.0,295.4 L305.0,293.6 L307.0,291.9 L309.0,290.2 L311.0,288.6 L313.0,287.1 L315.0,285.6 L317.0,284.2 L319.0,282.9 L321.0,281.7 L323.0,280.6 L325.0,279.6 L327.0,278.6 L329.0,277.8 L331.0,277.0 L333.0,276.3 L335.0,275.7 L337.0,275.1 L339.0,274.7 L341.0,274.2 L343.0,273.8 L345.0,273.5 L347.0,273.2 L349.0,273.0 L351.0,272.8 L353.0,272.6 L355.0,272.5 L357.0,272.5 L359.0,272.5 L361.0,272.5 L363.0,272.6 L365.0,272.7 L367.0,272.9 L369.0,273.2 L371.0,273.6 L373.0,274.0 L375.0,274.5 L377.0,275.1 L379.0,275.8 L381.0,276.6 L383.0,277.5 L385.0,278.5 L387.0,279.4 L389.0,280.5 L391.0,281.5 L393.0,282.6 L395.0,283.7 L397.0,284.8 L399.0,286.0 L401.0,287.2 L403.0,288.4 L405.0,289.6 L407.0,290.8 L409.0,292.0 L411.0,293.2 L413.0,294.4 L415.0,295.5 L417.0,296.6 L419.0,297.7 L421.0,298.7 L423.0,299.6 L425.0,300.6 L427.0,301.5 L429.0,302.4 L431.0,303.3 L433.0,304.2 L435.0,305.1 L437.0,306.0 L439.0,307.0 L441.0,307.9 L443.0,308.9 L445.0,310.0 L447.0,311.0 L449.0,312.1 L451.0,313.2 L453.0,314.4 L455.0,315.5 L457.0,316.7 L459.0,317.9 L461.0,319.1 L463.0,320.3 L465.0,321.5 L467.0,322.8 L469.0,324.1 L471.0,325.4 L473.0,326.7 L475.0,328.1 L477.0,329.4 L479.0,330.8 L481.0,332.2 L483.0,333.7 L485.0,335.1 L487.0,336.5 L489.0,338.0 L491.0,339.5 L493.0,340.9 L495.0,342.4 L497.0,343.9 L499.0,345.4 L501.0,346.9 L503.0,348.4 L505.0,349.9 L507.0,351.4 L509.0,352.9 L511.0,354.4 L513.0,355.9 L515.0,357.4 L517.0,358.9 L519.0,360.4 L521.0,361.9 L523.0,363.4 L525.0,364.8 L527.0,366.2 L529.0,367.6 L531.0,369.0 L533.0,370.3 L535.0,371.7 L537.0,372.9 L539.0,374.2 L541.0,375.4 L543.0,376.6 L545.0,377.8 L547.0,378.9 L549.0,380.0 L551.0,381.0 L553.0,382.0 L555.0,383.0 L557.0,383.9 L559.0,384.7 L561.0,385.5 L563.0,386.2 L565.0,386.9 L567.0,387.6 L569.0,388.2 L571.0,388.8 L573.0,389.3 L575.0,389.8 L577.0,390.3 L579.0,390.8 L581.0,391.2 L583.0,391.6 L585.0,391.9 L587.0,392.3 L589.0,392.6 L591.0,392.9 L593.0,393.2 L595.0,393.5 L597.0,393.7 L599.0,394.0 L601.0,394.3 L603.0,394.6 L605.0,394.9 L607.0,395.3 L609.0,395.7 L611.0,396.1 L613.0,396.6 L615.0,397.1 L617.0,397.7 L619.0,398.2 L621.0,398.8 L623.0,399.4 L625.0,400.0 L627.0,400.7" stroke="#ff8c00"/>
<path d="M83.0,411.1 L85.0,410.9 L87.0,410.6 L89.0,410.4 L91.0,410.1 L93.0,409.9 L95.0,409.6 L97.0,409.2 L99.0,408.9 L101.0,408.5 L103.0,408.0 L105.0,407.6 L107.0,407.0 L109.0,406.4 L111.0,405.8 L113.0,405.1 L115.0,404.3 L117.0,403.5 L119.0,402.6 L121.0,401.6 L123.0,400.6 L125.0,399.4 L127.0,398.2 L129.0,397.0 L131.0,395.6 L133.0,394.1 L135.0,392.6 L137.0,391.0 L139.0,389.2 L141.0,387.4 L143.0,385.5 L145.0,383.6 L147.0,381.5 L149.0,379.4 L151.0,377.2 L153.0,374.9 L155.0,372.6 L157.0,370.2 L159.0,367.8 L161.0,365.3 L163.0,362.7 L165.0,360.1 L167.0,357.4 L169.0,354.8 L171.0,352.0 L173.0,349.3 L175.0,346.6 L177.0,343.9 L179.0,341.3 L181.0,338.7 L183.0,336.1 L185.0,333.6 L187.0,331.3 L189.0,329.1 L191.0,327.1 L193.0,325.2 L195.0,323.6 L197.0,322.1 L199.0,320.7 L201.0,319.6 L203.0,318.5 L205.0,317.6 L207.0,316.7 L209.0,316.0 L211.0,315.4 L213.0,314.9 L215.0,314.5 L217.0,314.1 L219.0,313.9 L221.0,313.7 L223.0,313.6 L225.0,313.6 L227.0,313.7 L229.0,313.8 L231.0,314.0 L233.0,314.3 L235.0,314.5 L237.0,314.8 L239.0,315.1 L241.0,315.5 L243.0,315.8 L245.0,316.2 L247.0,316.6 L249.0,317.0 L251.0,317.4 L253.0,317.7 L255.0,318.0 L257.0,318.2 L259.0,318.4 L261.0,318.5 L263.0,318.5 L265.0,318.3 L267.0,318.1 L269.0,317.7 L271.0,317.2 L273.0,316.6 L275.0,315.8 L277.0,314.8 L279.0,313.7 L281.0,312.4 L283.0,311.0 L285.0,309.4 L287.0,307.6 L289.0,305.7 L291.0,303.7 L293.0,301.6 L295.0,299.3 L297.0,297.0 L299.0,294.5 L301.0,291.9 L303.0,289.3 L305.0,286.5 L307.0,283.7 L309.0,280.9 L311.0,278.1 L313.0,275.4 L315.0,272.8 L317.0,270.3 L319.0,267.9 L321.0,265.7 L323.0,263.7 L325.0,261.8 L327.0,260.2 L329.0,258.7 L331.0,257.4 L333.0,256.3 L335.0,255.4 L337.0,254.6 L339.0,254.0 L341.0,253.5 L343.0,253.1 L345.0,252.8 L347.0,252.7 L349.0,252.6 L351.0,252.6 L353.0,252.8 L355.0,253.0 L357.0,253.3 L359.0,253.7 L361.0,254.1 L363.0,254.6 L365.0,255.2 L367.0,255.8 L369.0,256.5 L371.0,257.3 L373.0,258.1 L375.0,259.0 L377.0,259.9 L379.0,260.9 L381.0,261.9 L383.0,262.9 L385.0,264.0 L387.0,265.0 L389.0,266.1 L391.0,267.1 L393.0,268.2 L395.0,269.3 L397.0,270.4 L399.0,271.6 L401.0,272.7 L403.0,273.9 L405.0,275.2 L407.0,276.5 L409.0,277.9 L411.0,279.3 L413.0,280.8 L415.0,282.4 L417.0,284.0 L419.0,285.8 L421.0,287.6 L423.0,289.4 L425.0,291.3 L427.0,293.3 L429.0,295.3 L431.0,297.3 L433.0,299.4 L435.0,301.5 L437.0,303.6 L439.0,305.8 L441.0,307.9 L443.0,310.1 L445.0,312.3 L447.0,314.6 L449.0,316.9 L451.0,319.2 L453.0,321.5 L455.0,323.9 L457.0,326.3 L459.0,328.8 L461.0,331.2 L463.0,333.7 L465.0,336.1 L467.0,338.6 L469.0,341.0 L471.0,343.4 L473.0,345.8 L475.0,348.2 L477.0,350.5 L479.0,352.8 L481.0,355.0 L483.0,357.2 L485.0,359.3 L487.0,361.3 L489.0,363.2 L491.0,364.9 L493.0,366.7 L495.0,368.3 L497.0,369.8 L499.0,371.4 L501.0,372.8 L503.0,374.2 L505.0,375.6 L507.0,377.0 L509.0,378.4 L511.0,379.7 L513.0,381.0 L515.0,382.3 L517.0,383.5 L519.0,384.7 L521.0,385.8 L523.0,386.8 L525.0,387.8 L527.0,388.7 L529.0,389.6 L531.0,390.5 L533.0,391.4 L535.0,392.4 L537.0,393.4 L539.0,394.4 L541.0,395.4 L543.0,396.4 L545.0,397.4 L547.0,398.4 L549.0,399.4 L551.0,400.4 L553.0,401.4 L555.0,402.3 L557.0,403.2 L559.0,404.1 L561.0,404.9 L563.0,405.6 L565.0,406.3 L567.0,407.0 L569.0,407.6 L571.0,408.2 L573.0,408.7 L575.0,409.2 L577.0,409.7 L579.0,410.1 L581.0,410.4 L583.0,410.7 L585.0,411.0 L587.0,411.2 L589.0,411.4 L591.0,411.6 L593.0,411.8 L595.0,411.9 L597.0,412.0 L599.0,412.1 L601.0,412.2 L603.0,412.2 L605.0,412.2 L607.0,412.2 L609.0,412.2 L611.0,412.2 L613.0,412.2 L615.0,412.2 L617.0,412.2 L619.0,412.2 L621.0,412.2 L623.0,412.1 L625.0,412.1 L627.0,412.0" stroke="#000080"/>
</g>
<rect x="83.0" y="7.5" width="544.0" height="405.5" fill="none" stroke="#000" stroke-width="1.4"/>
<g stroke="#000" stroke-width="1.1">
<line x1="83.00" y1="413.0" x2="83.00" y2="417.9"/>
<line x1="191.80" y1="413.0" x2="191.80" y2="417.9"/>
<line x1="300.60" y1="413.0" x2="300.60" y2="417.9"/>
<line x1="409.40" y1="413.0" x2="409.40" y2="417.9"/>
<line x1="518.20" y1="413.0" x2="518.20" y2="417.9"/>
<line x1="627.00" y1="413.0" x2="627.00" y2="417.9"/>
<line x1="78.1" y1="413.00" x2="83.0" y2="413.00"/>
<line x1="78.1" y1="339.50" x2="83.0" y2="339.50"/>
<line x1="78.1" y1="266.50" x2="83.0" y2="266.50"/>
<line x1="78.1" y1="193.50" x2="83.0" y2="193.50"/>
<line x1="78.1" y1="120.50" x2="83.0" y2="120.50"/>
<line x1="78.1" y1="47.50" x2="83.0" y2="47.50"/>
</g>
<g style="filter:grayscale(1)">
<text class="sr" x="83.00" y="436.4" font-size="19" text-anchor="middle" textLength="8.6" lengthAdjust="spacingAndGlyphs">0</text>
<text class="sr" x="191.80" y="436.4" font-size="19" text-anchor="middle" textLength="25.6" lengthAdjust="spacingAndGlyphs">100</text>
<text class="sr" x="300.60" y="436.4" font-size="19" text-anchor="middle" textLength="25.6" lengthAdjust="spacingAndGlyphs">200</text>
<text class="sr" x="409.40" y="436.4" font-size="19" text-anchor="middle" textLength="25.6" lengthAdjust="spacingAndGlyphs">300</text>
<text class="sr" x="518.20" y="436.4" font-size="19" text-anchor="middle" textLength="25.6" lengthAdjust="spacingAndGlyphs">400</text>
<text class="sr" x="627.00" y="436.4" font-size="19" text-anchor="middle" textLength="25.6" lengthAdjust="spacingAndGlyphs">500</text>
<text class="sr" x="72.4" y="419.40" font-size="19" text-anchor="end" textLength="40.6" lengthAdjust="spacingAndGlyphs">0.000</text>
<text class="sr" x="72.4" y="346.40" font-size="19" text-anchor="end" textLength="40.6" lengthAdjust="spacingAndGlyphs">0.002</text>
<text class="sr" x="72.4" y="273.40" font-size="19" text-anchor="end" textLength="40.6" lengthAdjust="spacingAndGlyphs">0.004</text>
<text class="sr" x="72.4" y="200.40" font-size="19" text-anchor="end" textLength="40.6" lengthAdjust="spacingAndGlyphs">0.006</text>
<text class="sr" x="72.4" y="127.40" font-size="19" text-anchor="end" textLength="40.6" lengthAdjust="spacingAndGlyphs">0.008</text>
<text class="sr" x="72.4" y="54.40" font-size="19" text-anchor="end" textLength="40.6" lengthAdjust="spacingAndGlyphs">0.010</text>
<text class="ss" x="355" y="460.8" font-size="20.5" text-anchor="middle" textLength="108.6" lengthAdjust="spacingAndGlyphs">Game length</text>
<text class="ss" transform="translate(22.2,210) rotate(-90)" font-size="20.5" text-anchor="middle" textLength="61.6" lengthAdjust="spacingAndGlyphs">Density</text>
</g>
<rect x="164.5" y="18.1" width="452" height="157.1" rx="2.8" ry="2.8" fill="#fff" fill-opacity="0.8" stroke="#d2d2d2" stroke-width="1.1"/>
<line x1="171.2" y1="34.5" x2="217.1" y2="34.5" stroke="#008000" stroke-width="2.78"/>
<line x1="171.2" y1="63.8" x2="217.1" y2="63.8" stroke="#ba55d3" stroke-width="2.78"/>
<line x1="171.2" y1="94.5" x2="217.1" y2="94.5" stroke="#00ffff" stroke-width="2.78"/>
<line x1="171.2" y1="125.4" x2="217.1" y2="125.4" stroke="#ff0000" stroke-width="2.78"/>
<line x1="171.2" y1="155.4" x2="217.1" y2="155.4" stroke="#00ff00" stroke-width="2.78"/>
<line x1="419.5" y1="34.5" x2="465.2" y2="34.5" stroke="#d2691e" stroke-width="2.78"/>
<line x1="419.5" y1="63.8" x2="465.2" y2="63.8" stroke="#ff00ff" stroke-width="2.78"/>
<line x1="419.5" y1="93.6" x2="465.2" y2="93.6" stroke="#00bfff" stroke-width="2.78"/>
<line x1="419.5" y1="123.3" x2="465.2" y2="123.3" stroke="#ff8c00" stroke-width="2.78"/>
<line x1="419.5" y1="153.0" x2="465.2" y2="153.0" stroke="#000080" stroke-width="2.78"/>
<g style="filter:grayscale(1)">
<text class="ss" x="233.5" y="42.1" font-size="20.5" textLength="72.0" lengthAdjust="spacingAndGlyphs">Classical</text>
<text class="ss" x="233.5" y="71.4" font-size="20.5" textLength="96.3" lengthAdjust="spacingAndGlyphs">No-castling</text>
<text class="ss" x="233.5" y="102.2" font-size="20.5" textLength="140.4" lengthAdjust="spacingAndGlyphs">No-castling (10)</text>
<text class="ss" x="233.5" y="133.0" font-size="20.5" textLength="145.6" lengthAdjust="spacingAndGlyphs">Pawn one square</text>
<text class="ss" x="233.5" y="163.0" font-size="20.5" textLength="131.0" lengthAdjust="spacingAndGlyphs">Stalemate=win</text>
<text class="ss" x="481.4" y="42.2" font-size="20.5" textLength="70.9" lengthAdjust="spacingAndGlyphs">Torpedo</text>
<text class="ss" x="481.4" y="71.5" font-size="20.5" textLength="115.0" lengthAdjust="spacingAndGlyphs">Semi-torpedo</text>
<text class="ss" x="481.4" y="100.8" font-size="20.5" textLength="92.8" lengthAdjust="spacingAndGlyphs">Pawn-back</text>
<text class="ss" x="481.4" y="130.9" font-size="20.5" textLength="127.0" lengthAdjust="spacingAndGlyphs">Pawn-sideways</text>
<text class="ss" x="481.4" y="161.3" font-size="20.5" textLength="103.8" lengthAdjust="spacingAndGlyphs">Self-capture</text>
</g>
</svg></body></html>
